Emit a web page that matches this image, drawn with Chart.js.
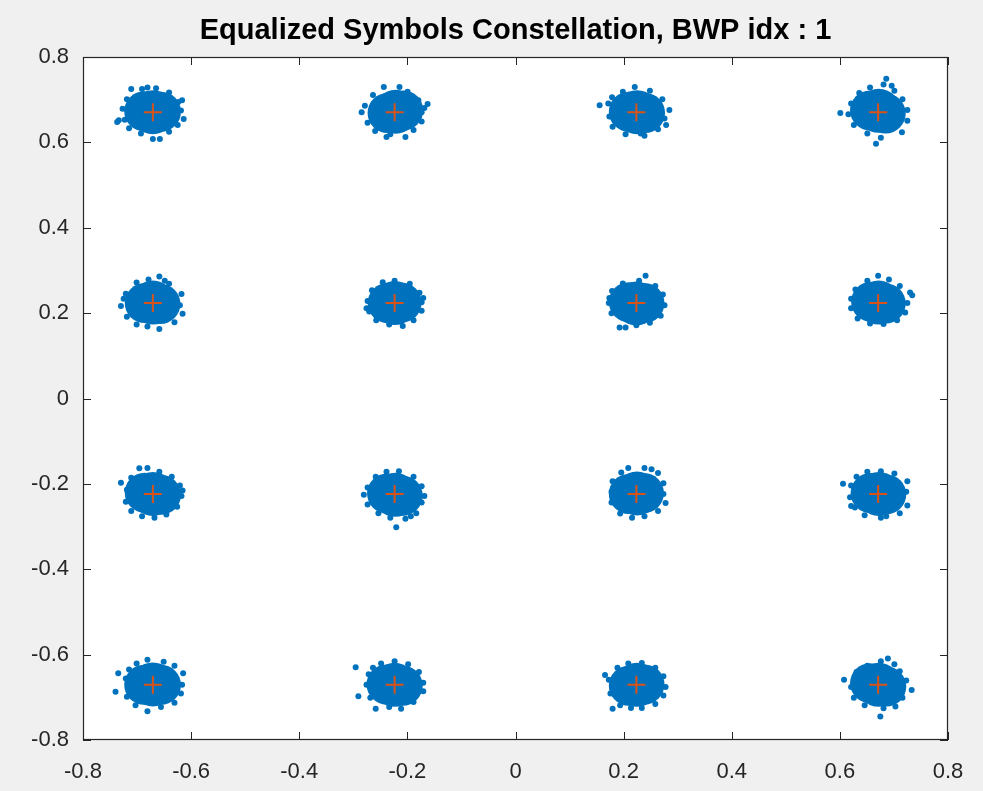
<!DOCTYPE html>
<html>
<head>
<meta charset="utf-8">
<script src="https://cdn.jsdelivr.net/npm/chart.js@4.4.1/dist/chart.umd.min.js"></script>
<style>
  html, body { margin: 0; padding: 0; background: #f0f0f0; }
  #wrap { width: 983px; height: 791px; }
</style>
</head>
<body>
<div id="wrap"><canvas id="constellation" width="983" height="791"></canvas></div>
<script>
// reference 16-QAM levels (I and Q)
const refLevels = [-0.6708, -0.2236, 0.2236, 0.6708];
const axisTicks = [-0.8, -0.6, -0.4, -0.2, 0, 0.2, 0.4, 0.6, 0.8];
const titleText = 'Equalized Symbols Constellation, BWP idx : 1';

// clusters row by row (Q from top to bottom), I from left to right
// dense middle of each cloud, as error vectors from the reference point
const coreErr = [
  [[-0.016, 0.002], [0.000, 0.000], [0.015, 0.001]],
  [[-0.013, -0.002], [0.002, 0.001], [0.016, 0.004]],
  [[-0.014, 0.001], [0.001, 0.000], [0.016, -0.002]],
  [[-0.015, 0.004], [0.001, 0.003], [0.014, -0.003]],
  [[-0.015, 0.000], [0.000, 0.001], [0.014, -0.002]],
  [[-0.013, 0.000], [0.000, 0.000], [0.013, 0.001]],
  [[-0.014, 0.002], [0.000, -0.001], [0.015, 0.000]],
  [[-0.013, 0.003], [0.001, 0.001], [0.014, -0.001]],
  [[-0.015, 0.003], [0.000, 0.000], [0.015, -0.002]],
  [[-0.014, 0.001], [0.001, -0.002], [0.015, -0.004]],
  [[-0.014, 0.000], [0.001, 0.001], [0.014, 0.002]],
  [[-0.014, 0.002], [0.001, 0.000], [0.015, -0.001]],
  [[-0.016, 0.000], [0.000, 0.001], [0.015, 0.000]],
  [[-0.015, 0.001], [0.000, 0.000], [0.015, -0.002]],
  [[-0.014, -0.002], [0.001, 0.000], [0.015, 0.001]],
  [[-0.015, 0.004], [0.001, 0.000], [0.015, -0.004]]
];

// scattered samples around the edge of each cloud, error vectors
const fringeErr = [
  [[0.052, 0.004], [0.047, 0.024], [0.030, 0.046], [0.006, 0.056], [-0.020, 0.054], [-0.040, 0.054], [-0.048, 0.030], [-0.056, 0.008], [-0.052, -0.018], [-0.044, -0.038], [-0.022, -0.050], [0.000, -0.063], [0.013, -0.063], [0.030, -0.046], [0.046, -0.030], [0.057, -0.016], [0.054, 0.028], [-0.010, 0.058], [-0.066, -0.023], [-0.063, -0.019]],
  [[0.050, 0.000], [0.044, 0.028], [0.061, 0.019], [0.055, 0.010], [0.024, 0.048], [-0.020, 0.059], [0.009, 0.059], [-0.040, 0.040], [-0.055, 0.015], [-0.061, 0.000], [-0.050, -0.025], [-0.036, -0.044], [-0.015, -0.058], [0.020, -0.058], [0.035, -0.042], [0.050, -0.022], [-0.008, -0.052]],
  [[-0.068, 0.016], [-0.052, 0.020], [-0.050, -0.010], [-0.044, -0.034], [-0.020, -0.052], [0.015, -0.055], [0.040, -0.040], [0.052, -0.015], [0.061, 0.005], [0.048, 0.030], [0.025, 0.050], [-0.003, 0.059], [-0.025, 0.048], [-0.045, 0.035], [0.008, -0.050], [0.055, -0.030]],
  [[0.015, 0.078], [0.010, 0.065], [-0.015, 0.058], [-0.035, 0.045], [-0.050, 0.020], [-0.070, -0.002], [-0.055, -0.005], [-0.045, -0.030], [-0.020, -0.050], [-0.004, -0.074], [0.005, -0.060], [0.044, -0.047], [0.054, -0.020], [0.054, 0.005], [0.045, 0.030], [0.030, 0.050], [0.025, 0.062]],
  [[-0.059, -0.007], [-0.050, 0.022], [-0.030, 0.048], [-0.008, 0.055], [0.012, 0.062], [0.030, 0.045], [0.053, 0.021], [0.050, -0.005], [0.055, -0.025], [0.040, -0.045], [0.012, -0.061], [-0.010, -0.055], [-0.030, -0.050], [-0.048, -0.032], [-0.054, 0.010], [0.022, 0.052]],
  [[0.050, 0.002], [0.046, 0.024], [0.028, 0.045], [0.000, 0.052], [-0.022, 0.049], [-0.042, 0.030], [-0.050, 0.005], [-0.047, -0.020], [-0.034, -0.040], [-0.010, -0.050], [0.015, -0.054], [0.035, -0.040], [0.050, -0.018], [0.053, 0.012], [-0.052, -0.012]],
  [[0.017, 0.064], [0.005, 0.052], [-0.025, 0.046], [-0.045, 0.028], [-0.051, 0.000], [-0.046, -0.024], [-0.031, -0.057], [-0.020, -0.057], [0.000, -0.052], [0.025, -0.046], [0.045, -0.030], [0.052, -0.005], [0.049, 0.020], [0.035, 0.040], [-0.050, 0.012]],
  [[0.000, 0.064], [0.020, 0.055], [0.040, 0.040], [0.059, 0.025], [0.054, 0.000], [0.050, -0.022], [0.035, -0.040], [0.010, -0.049], [-0.015, -0.048], [-0.038, -0.036], [-0.050, -0.012], [-0.050, 0.010], [-0.042, 0.032], [-0.020, 0.052], [0.063, 0.018]],
  [[-0.059, 0.026], [-0.048, 0.010], [-0.050, -0.018], [-0.040, -0.040], [-0.020, -0.052], [0.003, -0.056], [0.025, -0.048], [0.045, -0.030], [0.053, -0.005], [0.050, 0.020], [0.035, 0.040], [0.012, 0.052], [-0.010, 0.061], [-0.025, 0.060], [-0.040, 0.038], [0.055, 0.008]],
  [[0.003, -0.078], [0.040, -0.045], [0.030, -0.052], [0.050, -0.020], [0.055, -0.005], [0.050, 0.018], [0.035, 0.040], [0.008, 0.053], [-0.015, 0.052], [-0.035, 0.040], [-0.050, 0.015], [-0.057, -0.002], [-0.050, -0.025], [-0.030, -0.045], [-0.008, -0.056], [0.020, -0.058]],
  [[-0.015, 0.061], [0.015, 0.061], [0.040, 0.049], [0.050, 0.025], [0.054, -0.021], [0.050, 0.000], [0.040, -0.040], [0.015, -0.052], [-0.008, -0.056], [-0.030, -0.046], [-0.046, -0.020], [-0.046, 0.005], [-0.044, 0.030], [-0.028, 0.050], [0.028, 0.058]],
  [[-0.065, 0.024], [-0.050, 0.020], [-0.040, 0.040], [-0.020, 0.052], [0.005, 0.053], [0.030, 0.048], [0.054, 0.030], [0.052, 0.005], [0.054, -0.027], [0.040, -0.045], [0.015, -0.052], [0.005, -0.056], [-0.025, -0.050], [-0.043, -0.032], [-0.052, -0.008], [-0.050, -0.028]],
  [[-0.069, -0.016], [-0.064, 0.027], [-0.050, 0.015], [-0.048, -0.028], [-0.032, -0.048], [-0.010, -0.062], [0.015, -0.052], [0.040, -0.042], [0.052, -0.020], [0.054, 0.000], [0.056, 0.027], [0.040, 0.045], [0.020, 0.054], [-0.010, 0.059], [-0.030, 0.050], [-0.044, 0.036]],
  [[-0.072, 0.041], [-0.067, -0.027], [-0.048, 0.025], [-0.052, 0.000], [-0.045, -0.030], [-0.035, -0.056], [0.012, -0.056], [-0.010, -0.052], [0.035, -0.040], [0.053, -0.015], [0.053, 0.005], [0.045, 0.030], [0.025, 0.048], [0.000, 0.055], [-0.025, 0.050], [-0.040, 0.040]],
  [[-0.058, 0.023], [-0.051, 0.012], [-0.044, -0.056], [-0.048, -0.020], [-0.030, -0.048], [-0.010, -0.054], [0.010, -0.054], [0.035, -0.045], [0.050, -0.025], [0.054, -0.005], [0.050, 0.020], [0.035, 0.040], [0.010, 0.051], [-0.015, 0.050], [-0.035, 0.040], [-0.045, 0.000]],
  [[0.018, 0.062], [0.005, 0.055], [-0.020, 0.045], [-0.040, 0.030], [-0.063, 0.012], [-0.050, -0.005], [-0.045, -0.030], [-0.025, -0.048], [0.004, -0.074], [0.010, -0.055], [0.032, -0.051], [0.045, -0.030], [0.062, -0.012], [0.052, 0.010], [0.040, 0.032], [0.030, 0.048]]
];

// reference point of cluster k
function refPoint(k) {
  const row = Math.floor(k / 4), col = k % 4;
  return { x: refLevels[col], y: refLevels[3 - row] };
}

const refPoints = [], corePoints = [], fringePoints = [];
for (let k = 0; k < 16; k++) {
  const r = refPoint(k);
  refPoints.push(r);
  coreErr[k].forEach(e => corePoints.push({ x: r.x + e[0], y: r.y + e[1] }));
  fringeErr[k].forEach(e => fringePoints.push({ x: r.x + e[0], y: r.y + e[1] }));
}

const blue = '#0072BD';
const axisColor = '#262626';
const fontFamily = '"Liberation Sans", Arial, Helvetica, sans-serif';

function fmt(v) {
  return v === 0 ? '0' : Number(v).toFixed(1);
}

// grey figure background, white axes, box with inward ticks on all sides
const framePlugin = {
  id: 'frame',
  beforeDraw(chart) {
    const { ctx, chartArea: a } = chart;
    ctx.save();
    ctx.fillStyle = '#f0f0f0';
    ctx.fillRect(0, 0, chart.width, chart.height);
    ctx.fillStyle = '#ffffff';
    ctx.fillRect(a.left, a.top, a.right - a.left, a.bottom - a.top);
    ctx.restore();
  },
  afterDraw(chart) {
    const { ctx, chartArea: a, scales } = chart;
    const len = 8;
    ctx.save();
    ctx.strokeStyle = axisColor;
    ctx.lineWidth = 1;
    ctx.beginPath();
    axisTicks.forEach(v => {
      const px = Math.round(scales.x.getPixelForValue(v)) + 0.5;
      ctx.moveTo(px, a.bottom);
      ctx.lineTo(px, a.bottom - len);
      ctx.moveTo(px, a.top);
      ctx.lineTo(px, a.top + len);
      const py = Math.round(scales.y.getPixelForValue(v)) + 0.5;
      ctx.moveTo(a.left, py);
      ctx.lineTo(a.left + len, py);
      ctx.moveTo(a.right, py);
      ctx.lineTo(a.right - len, py);
    });
    ctx.stroke();
    ctx.lineWidth = 1.2;
    ctx.strokeRect(Math.round(a.left) + 0.5, Math.round(a.top) + 0.5,
      Math.round(a.right - a.left) - 1, Math.round(a.bottom - a.top) - 1);
    ctx.restore();
  }
};

const tickFont = { family: fontFamily, size: 22 };

new Chart(document.getElementById('constellation'), {
  type: 'scatter',
  data: {
    datasets: [
      {
        label: 'Reference',
        data: refPoints,
        order: 0,
        pointStyle: 'cross',
        pointRadius: 9,
        borderColor: '#D95319',
        backgroundColor: '#D95319',
        borderWidth: 2
      },
      {
        label: 'Equalized symbols',
        data: fringePoints,
        order: 1,
        pointRadius: 3,
        backgroundColor: blue,
        borderColor: blue,
        borderWidth: 0
      },
      {
        label: 'Equalized symbols (dense)',
        data: corePoints,
        order: 2,
        pointRadius: c => (c.dataIndex % 3 === 1 ? 22 : 20),
        backgroundColor: blue,
        borderColor: blue,
        borderWidth: 0
      }
    ]
  },
  options: {
    responsive: false,
    animation: false,
    events: [],
    layout: { padding: { top: 0, left: 0, right: 35, bottom: 0 } },
    plugins: {
      legend: { display: false },
      tooltip: { enabled: false },
      title: {
        display: true,
        fullSize: false, // centre the title over the axes
        text: titleText,
        color: '#000000',
        font: { family: fontFamily, size: 29, weight: 'bold' },
        padding: { top: 14, bottom: 8.2 }
      }
    },
    scales: {
      x: {
        type: 'linear',
        min: -0.8,
        max: 0.8,
        afterBuildTicks: s => { s.ticks = axisTicks.map(v => ({ value: v })); },
        afterFit: s => { s.height = 51; },
        grid: { display: false, drawTicks: false },
        border: { display: false },
        ticks: { color: axisColor, font: tickFont, padding: 19, maxRotation: 0, autoSkip: false, callback: fmt }
      },
      y: {
        type: 'linear',
        min: -0.8,
        max: 0.8,
        afterBuildTicks: s => { s.ticks = axisTicks.map(v => ({ value: v })); },
        afterFit: s => { s.width = 83; },
        grid: { display: false, drawTicks: false },
        border: { display: false },
        ticks: { color: axisColor, font: tickFont, padding: 14, autoSkip: false, callback: fmt }
      }
    }
  },
  plugins: [framePlugin]
});
</script>
</body>
</html>
